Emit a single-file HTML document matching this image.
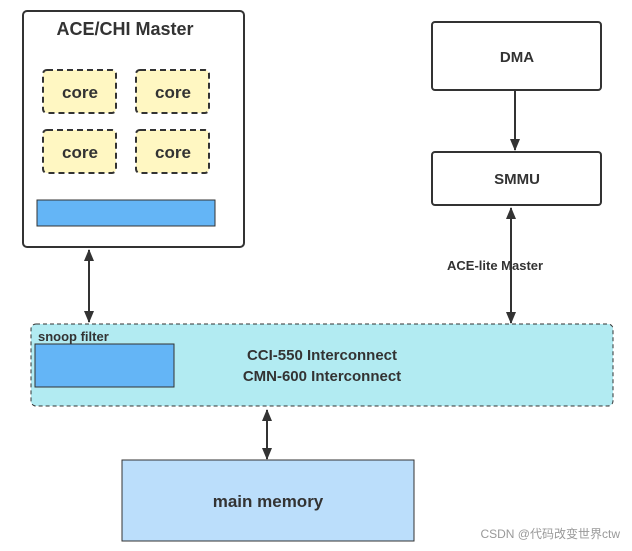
<!DOCTYPE html>
<html><head><style>body{margin:0;background:#fff}svg{display:block}text{font-family:"Liberation Sans","Noto Sans CJK SC",sans-serif;fill:#333;font-weight:bold}</style></head>
<body>
<svg width="632" height="551" viewBox="0 0 632 551">
<defs>
<marker id="a" viewBox="0 0 12 10" refX="11" refY="5" markerWidth="6" markerHeight="5" orient="auto-start-reverse"><path d="M0,0L12,5L0,10z" fill="#333"/></marker>
</defs>
<rect x="23" y="11" width="221" height="236" rx="4" fill="#fff" stroke="#333" stroke-width="2"/>
<text x="125" y="35" font-size="18" text-anchor="middle">ACE/CHI Master</text>
<g fill="#fff7c2" stroke="#333" stroke-width="2" stroke-dasharray="6,4">
<rect x="43" y="70" width="73" height="43" rx="4"/><rect x="136" y="70" width="73" height="43" rx="4"/>
<rect x="43" y="130" width="73" height="43" rx="4"/><rect x="136" y="130" width="73" height="43" rx="4"/>
</g>
<g font-size="17" text-anchor="middle"><text x="80" y="98">core</text><text x="173" y="98">core</text><text x="80" y="158">core</text><text x="173" y="158">core</text></g>
<rect x="37" y="200" width="178" height="26" fill="#64b5f6" stroke="#333"/>
<rect x="432" y="22" width="169" height="68" rx="3" fill="#fff" stroke="#333" stroke-width="2"/>
<text x="517" y="62" font-size="15" text-anchor="middle">DMA</text>
<rect x="432" y="152" width="169" height="53" rx="3" fill="#fff" stroke="#333" stroke-width="2"/>
<text x="517" y="184" font-size="15" text-anchor="middle">SMMU</text>
<g stroke="#333" stroke-width="2" fill="none">
<line x1="89" y1="250" x2="89" y2="322" marker-start="url(#a)" marker-end="url(#a)"/>
<line x1="515" y1="91" x2="515" y2="150" marker-end="url(#a)"/>
<line x1="511" y1="208" x2="511" y2="323" marker-start="url(#a)" marker-end="url(#a)"/>
<line x1="267" y1="410" x2="267" y2="459" marker-start="url(#a)" marker-end="url(#a)"/>
</g>
<text x="447" y="270" font-size="13">ACE-lite Master</text>
<rect x="31" y="324" width="582" height="82" rx="5" fill="#b2ebf2" stroke="#333" stroke-dasharray="4,3"/>
<text x="38" y="341" font-size="13">snoop filter</text>
<rect x="35" y="344" width="139" height="43" fill="#64b5f6" stroke="#333"/>
<text x="322" y="360" font-size="15" text-anchor="middle">CCI-550  Interconnect</text>
<text x="322" y="381" font-size="15" text-anchor="middle">CMN-600 Interconnect</text>
<rect x="122" y="460" width="292" height="81" fill="#bbdefb" stroke="#333"/>
<text x="268" y="507" font-size="17" text-anchor="middle">main memory</text>
<text x="620" y="538" font-size="12" text-anchor="end" style="font-weight:normal;fill:#999">CSDN @代码改变世界ctw</text>
</svg>
</body></html>
